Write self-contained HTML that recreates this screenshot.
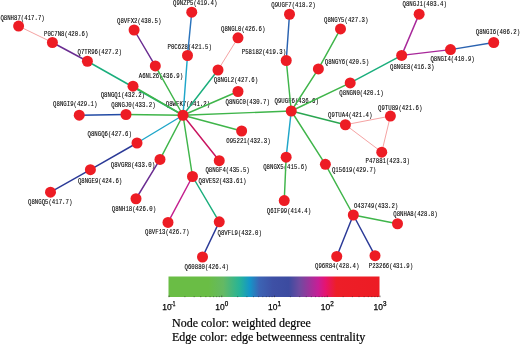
<!DOCTYPE html>
<html><head><meta charset="utf-8"><title>Network</title>
<style>
html,body{margin:0;padding:0;background:#fff;}
svg{display:block;}
.lb{font-family:"Liberation Mono","Liberation Serif",monospace;font-size:7.8px;fill:#000;stroke:#000;stroke-width:0.1px;}
.tk{font-family:"Liberation Sans",sans-serif;font-size:9.4px;fill:#000;stroke:#000;stroke-width:0.25px;}
.sup{font-size:6.3px;stroke-width:0.25px;}
.lg{font-family:"Liberation Serif",serif;font-size:12px;fill:#000;stroke:#000;stroke-width:0.2px;}
</style></head><body>
<svg width="520" height="344" viewBox="0 0 520 344">
<defs><linearGradient id="cb" x1="0" x2="1" y1="0" y2="0">
<stop offset="0" stop-color="#6abd45"/>
<stop offset="0.19" stop-color="#6abd45"/>
<stop offset="0.26" stop-color="#64b964"/>
<stop offset="0.335" stop-color="#28b496"/>
<stop offset="0.385" stop-color="#1496c8"/>
<stop offset="0.43" stop-color="#3c64b4"/>
<stop offset="0.495" stop-color="#3e50a5"/>
<stop offset="0.57" stop-color="#3c4ba0"/>
<stop offset="0.62" stop-color="#6e4ba0"/>
<stop offset="0.71" stop-color="#c81e96"/>
<stop offset="0.745" stop-color="#e6146e"/>
<stop offset="0.795" stop-color="#ed1e28"/>
<stop offset="1" stop-color="#ed1c24"/>
</linearGradient></defs>
<rect width="520" height="344" fill="#fff"/>

<g class="lb">
<text x="0.4" y="20.00" textLength="44.33" lengthAdjust="spacingAndGlyphs">Q8NH87(417.7)</text>
<text x="44.05" y="35.75" textLength="44.33" lengthAdjust="spacingAndGlyphs">P0C7N8(420.6)</text>
<text x="77.5" y="54.00" textLength="44.33" lengthAdjust="spacingAndGlyphs">Q7TR96(427.2)</text>
<text x="173.0" y="5.35" textLength="44.33" lengthAdjust="spacingAndGlyphs">Q9NZP5(419.4)</text>
<text x="117.0" y="23.25" textLength="44.33" lengthAdjust="spacingAndGlyphs">Q8VFX2(430.5)</text>
<text x="167.5" y="48.75" textLength="44.33" lengthAdjust="spacingAndGlyphs">P0C628(421.5)</text>
<text x="221.0" y="30.50" textLength="44.33" lengthAdjust="spacingAndGlyphs">Q8NGL0(426.6)</text>
<text x="241.75" y="53.80" textLength="44.33" lengthAdjust="spacingAndGlyphs">P58182(419.3)</text>
<text x="138.75" y="77.70" textLength="44.33" lengthAdjust="spacingAndGlyphs">A6NL26(436.9)</text>
<text x="213.75" y="82.10" textLength="44.33" lengthAdjust="spacingAndGlyphs">Q8NGL2(427.6)</text>
<text x="271.25" y="6.60" textLength="44.33" lengthAdjust="spacingAndGlyphs">Q9UGF7(418.2)</text>
<text x="324.05" y="21.50" textLength="44.33" lengthAdjust="spacingAndGlyphs">Q8NGY5(427.3)</text>
<text x="324.8" y="64.40" textLength="44.33" lengthAdjust="spacingAndGlyphs">Q8NGY6(420.5)</text>
<text x="402.5" y="5.90" textLength="44.33" lengthAdjust="spacingAndGlyphs">Q8NGJ1(403.4)</text>
<text x="475.75" y="33.90" textLength="44.33" lengthAdjust="spacingAndGlyphs">Q8NGI6(406.2)</text>
<text x="430.4" y="60.50" textLength="44.33" lengthAdjust="spacingAndGlyphs">Q8NGI4(410.9)</text>
<text x="390.0" y="68.70" textLength="44.33" lengthAdjust="spacingAndGlyphs">Q8NGE8(416.3)</text>
<text x="53.1" y="106.15" textLength="44.33" lengthAdjust="spacingAndGlyphs">Q8NGI9(429.1)</text>
<text x="100.7" y="97.00" textLength="44.33" lengthAdjust="spacingAndGlyphs">Q8NGQ1(432.2)</text>
<text x="111.25" y="106.80" textLength="44.33" lengthAdjust="spacingAndGlyphs">Q8NGJ0(433.2)</text>
<text x="87.5" y="135.80" textLength="44.33" lengthAdjust="spacingAndGlyphs">Q8NGQ6(427.6)</text>
<text x="110.75" y="167.40" textLength="44.33" lengthAdjust="spacingAndGlyphs">Q8VGR8(433.0)</text>
<text x="165.75" y="106.00" textLength="44.33" lengthAdjust="spacingAndGlyphs">Q8WFK7(441.2)</text>
<text x="225.5" y="103.95" textLength="44.33" lengthAdjust="spacingAndGlyphs">Q8NGC0(430.7)</text>
<text x="226.25" y="143.30" textLength="44.33" lengthAdjust="spacingAndGlyphs">O95221(432.3)</text>
<text x="205.4" y="172.35" textLength="44.33" lengthAdjust="spacingAndGlyphs">Q8NGF4(435.5)</text>
<text x="339.35" y="95.20" textLength="44.33" lengthAdjust="spacingAndGlyphs">Q8NGN0(420.1)</text>
<text x="274.5" y="103.35" textLength="44.33" lengthAdjust="spacingAndGlyphs">Q9UGF6(436.6)</text>
<text x="328.1" y="116.65" textLength="44.33" lengthAdjust="spacingAndGlyphs">Q9TUA4(421.4)</text>
<text x="378.0" y="109.50" textLength="44.33" lengthAdjust="spacingAndGlyphs">Q9TU89(421.6)</text>
<text x="365.5" y="163.35" textLength="44.33" lengthAdjust="spacingAndGlyphs">P47881(423.3)</text>
<text x="263.2" y="168.75" textLength="44.33" lengthAdjust="spacingAndGlyphs">Q8NGX5(415.6)</text>
<text x="331.95" y="171.55" textLength="44.33" lengthAdjust="spacingAndGlyphs">Q15619(429.7)</text>
<text x="77.9" y="182.95" textLength="44.33" lengthAdjust="spacingAndGlyphs">Q8NGE9(424.6)</text>
<text x="28.0" y="203.50" textLength="44.33" lengthAdjust="spacingAndGlyphs">Q8NGQ5(417.7)</text>
<text x="111.75" y="210.80" textLength="44.33" lengthAdjust="spacingAndGlyphs">Q8NH18(426.0)</text>
<text x="198.6" y="182.80" textLength="47.74" lengthAdjust="spacingAndGlyphs">Q8VES2(433.61)</text>
<text x="145.0" y="233.80" textLength="44.33" lengthAdjust="spacingAndGlyphs">Q8VF13(426.7)</text>
<text x="217.5" y="235.10" textLength="44.33" lengthAdjust="spacingAndGlyphs">Q8VFL9(432.0)</text>
<text x="184.5" y="269.40" textLength="44.33" lengthAdjust="spacingAndGlyphs">Q60880(426.4)</text>
<text x="266.75" y="213.20" textLength="44.33" lengthAdjust="spacingAndGlyphs">Q6IF99(414.4)</text>
<text x="353.95" y="207.55" textLength="44.33" lengthAdjust="spacingAndGlyphs">O43749(433.2)</text>
<text x="393.3" y="215.80" textLength="44.33" lengthAdjust="spacingAndGlyphs">Q8NHA8(428.8)</text>
<text x="315.0" y="268.25" textLength="44.33" lengthAdjust="spacingAndGlyphs">Q96R84(428.4)</text>
<text x="368.8" y="268.45" textLength="44.33" lengthAdjust="spacingAndGlyphs">P23266(431.9)</text>
</g>
<g stroke-linecap="round" fill="none">
<line x1="18.6" y1="26.1" x2="52.4" y2="42.5" stroke="#f5a3a3" stroke-width="1.0"/>
<line x1="52.4" y1="42.5" x2="87.4" y2="61.25" stroke="#6a2c91" stroke-width="1.45"/>
<line x1="87.4" y1="61.25" x2="183" y2="115.25" stroke="#1aae7c" stroke-width="1.45"/>
<line x1="134.1" y1="30.0" x2="155.3" y2="65.9" stroke="#6a2c91" stroke-width="1.45"/>
<line x1="155.3" y1="65.9" x2="183" y2="115.25" stroke="#3fb54a" stroke-width="1.45"/>
<line x1="191.75" y1="12.15" x2="187.5" y2="55.5" stroke="#2b74bc" stroke-width="1.45"/>
<line x1="187.5" y1="55.5" x2="183" y2="115.25" stroke="#1fa6c9" stroke-width="1.45"/>
<line x1="238.0" y1="37.8" x2="218" y2="70" stroke="#f5a3a3" stroke-width="1.0"/>
<line x1="218" y1="70" x2="183" y2="115.25" stroke="#1aae7c" stroke-width="1.45"/>
<line x1="133" y1="86.2" x2="183" y2="115.25" stroke="#3fb54a" stroke-width="1.45"/>
<line x1="79.25" y1="115.2" x2="126" y2="114.5" stroke="#234ba5" stroke-width="1.45"/>
<line x1="126" y1="114.5" x2="183" y2="115.25" stroke="#3fb54a" stroke-width="1.45"/>
<line x1="183" y1="115.25" x2="238.0" y2="91.5" stroke="#3fb54a" stroke-width="1.45"/>
<line x1="183" y1="115.25" x2="241.65" y2="131.0" stroke="#3fb54a" stroke-width="1.45"/>
<line x1="183" y1="115.25" x2="291.25" y2="111" stroke="#3fb54a" stroke-width="1.45"/>
<line x1="183" y1="115.25" x2="137" y2="143" stroke="#1fa6c9" stroke-width="1.45"/>
<line x1="137" y1="143" x2="90.4" y2="169.7" stroke="#2b3a97" stroke-width="1.45"/>
<line x1="90.4" y1="169.7" x2="50.5" y2="192.2" stroke="#2b3a97" stroke-width="1.45"/>
<line x1="183" y1="115.25" x2="160" y2="159.4" stroke="#3fb54a" stroke-width="1.45"/>
<line x1="160" y1="159.4" x2="136.0" y2="198.75" stroke="#6a2c91" stroke-width="1.45"/>
<line x1="183" y1="115.25" x2="219.25" y2="160.7" stroke="#c9145f" stroke-width="1.45"/>
<line x1="183" y1="115.25" x2="192.5" y2="176.5" stroke="#3fb54a" stroke-width="1.45"/>
<line x1="192.5" y1="176.5" x2="168.0" y2="222.4" stroke="#c4208e" stroke-width="1.45"/>
<line x1="192.5" y1="176.5" x2="219.25" y2="221.85" stroke="#1aae7c" stroke-width="1.45"/>
<line x1="219.25" y1="221.85" x2="202.5" y2="257" stroke="#2b3a97" stroke-width="1.45"/>
<line x1="291.25" y1="111" x2="286.25" y2="60.5" stroke="#3fb54a" stroke-width="1.45"/>
<line x1="286.25" y1="60.5" x2="289.5" y2="14.25" stroke="#2a62b0" stroke-width="1.45"/>
<line x1="291.25" y1="111" x2="318.4" y2="68.95" stroke="#3fb54a" stroke-width="1.45"/>
<line x1="318.4" y1="68.95" x2="340.5" y2="28.95" stroke="#3fb54a" stroke-width="1.45"/>
<line x1="291.25" y1="111" x2="350.2" y2="82.9" stroke="#3fb54a" stroke-width="1.45"/>
<line x1="350.2" y1="82.9" x2="401.65" y2="55.4" stroke="#1aae7c" stroke-width="1.45"/>
<line x1="401.65" y1="55.4" x2="419.15" y2="14.15" stroke="#a8289a" stroke-width="1.45"/>
<line x1="401.65" y1="55.4" x2="450.5" y2="49.6" stroke="#a8289a" stroke-width="1.45"/>
<line x1="450.5" y1="49.6" x2="493.75" y2="42.5" stroke="#2a62b0" stroke-width="1.45"/>
<line x1="291.25" y1="111" x2="345.4" y2="124.75" stroke="#2aa651" stroke-width="1.45"/>
<line x1="345.4" y1="124.75" x2="390.4" y2="116.1" stroke="#f5a3a3" stroke-width="1.0"/>
<line x1="345.4" y1="124.75" x2="381.75" y2="152.15" stroke="#f5a3a3" stroke-width="1.0"/>
<line x1="390.4" y1="116.1" x2="381.75" y2="152.15" stroke="#f5a3a3" stroke-width="1.0"/>
<line x1="291.25" y1="111" x2="286.15" y2="157.15" stroke="#1fa6c9" stroke-width="1.45"/>
<line x1="286.15" y1="157.15" x2="284.25" y2="200.55" stroke="#3fb54a" stroke-width="1.45"/>
<line x1="291.25" y1="111" x2="325.4" y2="164.35" stroke="#3fb54a" stroke-width="1.45"/>
<line x1="325.4" y1="164.35" x2="353.3" y2="215.0" stroke="#3fb54a" stroke-width="1.45"/>
<line x1="353.3" y1="215.0" x2="397.5" y2="223.75" stroke="#3fb54a" stroke-width="1.45"/>
<line x1="353.3" y1="215.0" x2="336.75" y2="256.45" stroke="#2b3a97" stroke-width="1.45"/>
<line x1="353.3" y1="215.0" x2="375.0" y2="255.7" stroke="#2b3a97" stroke-width="1.45"/>
</g>
<g fill="#ed1c24">
<circle cx="18.6" cy="26.1" r="5.5"/>
<circle cx="52.4" cy="42.5" r="5.5"/>
<circle cx="87.4" cy="61.25" r="5.5"/>
<circle cx="134.1" cy="30.0" r="5.5"/>
<circle cx="191.75" cy="12.15" r="5.5"/>
<circle cx="187.5" cy="55.5" r="5.5"/>
<circle cx="155.3" cy="65.9" r="5.5"/>
<circle cx="238.0" cy="37.8" r="5.5"/>
<circle cx="218" cy="70" r="5.5"/>
<circle cx="289.5" cy="14.25" r="5.5"/>
<circle cx="340.5" cy="28.95" r="5.5"/>
<circle cx="286.25" cy="60.5" r="5.5"/>
<circle cx="318.4" cy="68.95" r="5.5"/>
<circle cx="350.2" cy="82.9" r="5.5"/>
<circle cx="419.15" cy="14.15" r="5.5"/>
<circle cx="493.75" cy="42.5" r="5.5"/>
<circle cx="450.5" cy="49.6" r="5.5"/>
<circle cx="401.65" cy="55.4" r="5.5"/>
<circle cx="79.25" cy="115.2" r="5.5"/>
<circle cx="126" cy="114.5" r="5.5"/>
<circle cx="90.4" cy="169.7" r="5.5"/>
<circle cx="133" cy="86.2" r="5.5"/>
<circle cx="183" cy="115.25" r="5.5"/>
<circle cx="238.0" cy="91.5" r="5.5"/>
<circle cx="241.65" cy="131.0" r="5.5"/>
<circle cx="137" cy="143" r="5.5"/>
<circle cx="160" cy="159.4" r="5.5"/>
<circle cx="219.25" cy="160.7" r="5.5"/>
<circle cx="192.5" cy="176.5" r="5.5"/>
<circle cx="291.25" cy="111" r="5.5"/>
<circle cx="345.4" cy="124.75" r="5.5"/>
<circle cx="390.4" cy="116.1" r="5.5"/>
<circle cx="381.75" cy="152.15" r="5.5"/>
<circle cx="286.15" cy="157.15" r="5.5"/>
<circle cx="325.4" cy="164.35" r="5.5"/>
<circle cx="50.5" cy="192.2" r="5.5"/>
<circle cx="136.0" cy="198.75" r="5.5"/>
<circle cx="168.0" cy="222.4" r="5.5"/>
<circle cx="219.25" cy="221.85" r="5.5"/>
<circle cx="202.5" cy="257" r="5.5"/>
<circle cx="284.25" cy="200.55" r="5.5"/>
<circle cx="353.3" cy="215.0" r="5.5"/>
<circle cx="336.75" cy="256.45" r="5.5"/>
<circle cx="375.0" cy="255.7" r="5.5"/>
<circle cx="397.5" cy="223.75" r="5.5"/>
</g>
<rect x="168.5" y="276.5" width="211" height="20.5" fill="url(#cb)"/>
<path d="M169.00 297.2v-1.6 M184.88 297.2v-0.9 M194.17 297.2v-0.9 M200.76 297.2v-0.9 M205.87 297.2v-0.9 M210.05 297.2v-0.9 M213.58 297.2v-0.9 M216.64 297.2v-0.9 M219.34 297.2v-0.9 M221.75 297.2v-1.6 M237.63 297.2v-0.9 M246.92 297.2v-0.9 M253.51 297.2v-0.9 M258.62 297.2v-0.9 M262.80 297.2v-0.9 M266.33 297.2v-0.9 M269.39 297.2v-0.9 M272.09 297.2v-0.9 M274.50 297.2v-1.6 M290.38 297.2v-0.9 M299.67 297.2v-0.9 M306.26 297.2v-0.9 M311.37 297.2v-0.9 M315.55 297.2v-0.9 M319.08 297.2v-0.9 M322.14 297.2v-0.9 M324.84 297.2v-0.9 M327.25 297.2v-1.6 M343.13 297.2v-0.9 M352.42 297.2v-0.9 M359.01 297.2v-0.9 M364.12 297.2v-0.9 M368.30 297.2v-0.9 M371.83 297.2v-0.9 M374.89 297.2v-0.9 M377.59 297.2v-0.9 M380.00 297.2v-1.6" stroke="#222" stroke-width="0.6" fill="none"/>
<text class="tk" x="162.25" y="310.3" textLength="9.4" lengthAdjust="spacingAndGlyphs">10</text>
<text class="tk sup" x="171.25" y="306.1" textLength="4.20" lengthAdjust="spacingAndGlyphs">-1</text>
<text class="tk" x="215.35" y="310.3" textLength="9.4" lengthAdjust="spacingAndGlyphs">10</text>
<text class="tk sup" x="224.85" y="306.1" textLength="3.50" lengthAdjust="spacingAndGlyphs">0</text>
<text class="tk" x="268.10" y="310.3" textLength="9.4" lengthAdjust="spacingAndGlyphs">10</text>
<text class="tk sup" x="277.60" y="306.1" textLength="3.50" lengthAdjust="spacingAndGlyphs">1</text>
<text class="tk" x="320.85" y="310.3" textLength="9.4" lengthAdjust="spacingAndGlyphs">10</text>
<text class="tk sup" x="330.35" y="306.1" textLength="3.50" lengthAdjust="spacingAndGlyphs">2</text>
<text class="tk" x="373.60" y="310.3" textLength="9.4" lengthAdjust="spacingAndGlyphs">10</text>
<text class="tk sup" x="383.10" y="306.1" textLength="3.50" lengthAdjust="spacingAndGlyphs">3</text>
<text class="lg" x="172" y="326.8">Node color: weighted degree</text>
<text class="lg" x="172" y="341.2">Edge color: edge betweenness centrality</text>
</svg></body></html>
